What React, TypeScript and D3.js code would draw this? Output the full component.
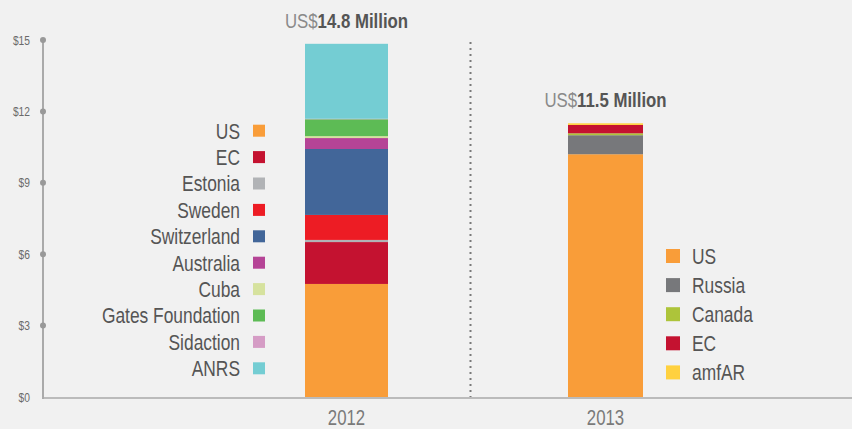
import React from "react";
import * as d3 from "d3";

const years = ["2012", "2013"];
const totals = ["14.8", "11.5"];

const donors2012 = ["US", "EC", "Estonia", "Sweden", "Switzerland", "Australia", "Cuba", "Gates Foundation", "Sidaction", "ANRS"];
const values2012 = [4.75, 1.76, 0.09, 1.05, 2.77, 0.46, 0.08, 0.71, 0.02, 3.15];
const colors2012 = ["#F99D39", "#C41230", "#B1B3B6", "#ED1C24", "#426699", "#B54496", "#D6E29E", "#5DBB55", "#D59CC5", "#74CDD3"];

const donors2013 = ["US", "Russia", "Canada", "EC", "amfAR"];
const values2013 = [10.2, 0.8, 0.08, 0.35, 0.07];
const colors2013 = ["#F99D39", "#77787B", "#ADC43A", "#C41230", "#FFD13F"];

const yTicks = [0, 3, 6, 9, 12, 15];

const W = 852;
const H = 429;
const FONT = "'Liberation Sans', Arial, sans-serif";
const SX = 0.8;

function stackSegments(values: number[]) {
  let acc = 0;
  return values.map((v) => {
    const s = { y0: acc, y1: acc + v };
    acc += v;
    return s;
  });
}

function CText(props: {
  x: number;
  y: number;
  sx?: number;
  anchor?: "start" | "middle" | "end";
  size: number;
  fill?: string;
  dy?: string;
  children: React.ReactNode;
}) {
  const sx = props.sx ?? SX;
  return (
    <text
      transform={`translate(${props.x},${props.y}) scale(${sx},1)`}
      textAnchor={props.anchor ?? "start"}
      fontSize={props.size}
      fill={props.fill}
      dy={props.dy}
    >
      {props.children}
    </text>
  );
}

export default function App() {
  const y = d3.scaleLinear().domain([0, 15]).range([397, 40]);
  const x = d3.scalePoint<string>().domain(years).range([346.5, 605.5]);
  const barWidths: Record<string, number> = { "2012": 83, "2013": 75 };

  const bars = [
    { year: "2012", values: values2012, colors: colors2012 },
    { year: "2013", values: values2013, colors: colors2013 },
  ];

  return (
    <svg
      width={W}
      height={H}
      style={{ position: "absolute", left: 0, top: 0, background: "#F1F1F1", fontFamily: FONT }}
    >
      <rect x={0} y={0} width={W} height={H} fill="#F1F1F1" />

      {bars.map((b) => {
        const cx = x(b.year)!;
        const bw = barWidths[b.year];
        return (
          <g key={b.year}>
            {stackSegments(b.values).map((s, i) => (
              <rect
                key={i}
                x={cx - bw / 2}
                y={y(s.y1)}
                width={bw}
                height={y(s.y0) - y(s.y1)}
                fill={b.colors[i]}
              />
            ))}
          </g>
        );
      })}

      <line x1={43} x2={W} y1={y(0) + 1} y2={y(0) + 1} stroke="#BBBBBB" strokeWidth={2} />
      <line x1={43} x2={43} y1={y(15)} y2={y(0) + 2} stroke="#AAAAAA" strokeWidth={2} />
      {yTicks.map((t) => (
        <g key={t}>
          {t > 0 && <circle cx={43} cy={y(t)} r={3} fill="#999999" />}
          <CText x={30} y={y(t)} dy="0.36em" anchor="end" size={12.5} fill="#6A6A6A" sx={0.82}>
            {"$" + t}
          </CText>
        </g>
      ))}

      <line x1={470.5} x2={470.5} y1={42} y2={397} stroke="#7A7A7A" strokeWidth={2} strokeDasharray="2,4" />

      {years.map((yr, i) => {
        const sum = d3.sum(i === 0 ? values2012 : values2013);
        return (
          <CText key={yr} x={x(yr)!} y={y(sum) - 16} anchor="middle" size={21}>
            <tspan fill="#8A8A8A">US$</tspan>
            <tspan fill="#555555" fontWeight="bold">{totals[i] + " Million"}</tspan>
          </CText>
        );
      })}

      {years.map((yr) => (
        <CText key={yr} x={x(yr)!} y={424.8} anchor="middle" size={21.5} fill="#7A7A7A" sx={0.78}>
          {yr}
        </CText>
      ))}

      {donors2012.map((d, i) => {
        const cy = 130.7 + i * 26.4;
        return (
          <g key={d}>
            <CText x={240} y={cy} dy="0.36em" anchor="end" size={22} fill="#555555" sx={0.79}>
              {d}
            </CText>
            <rect x={253} y={cy - 6} width={12} height={12} fill={colors2012[i]} />
          </g>
        );
      })}

      {donors2013.map((d, i) => {
        const cy = 256 + i * 29.1;
        return (
          <g key={d + "13"}>
            <rect x={666} y={cy - 7} width={14} height={14} fill={colors2013[i]} />
            <CText x={692} y={cy} dy="0.36em" anchor="start" size={22} fill="#555555" sx={0.79}>
              {d}
            </CText>
          </g>
        );
      })}
    </svg>
  );
}
